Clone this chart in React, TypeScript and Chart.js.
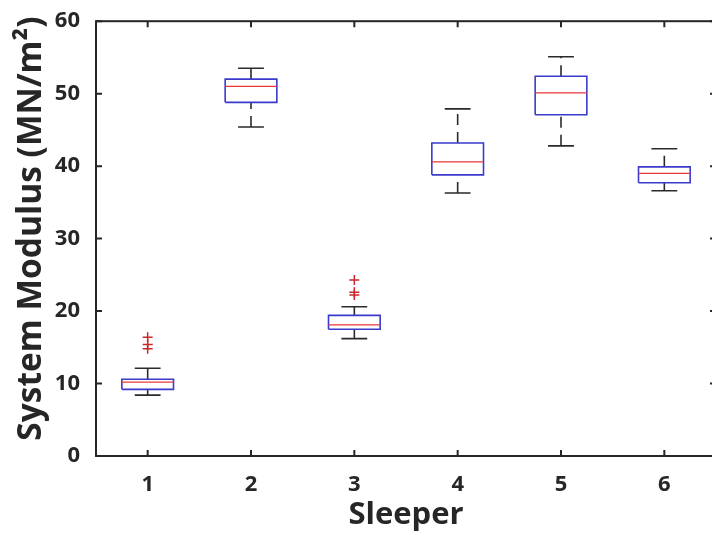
import React, { useEffect, useRef } from "react";
import { Chart, registerables } from "chart.js";

Chart.register(...registerables);

const sleepers = [1, 2, 3, 4, 5, 6];
const lowerWhisker = [8.4, 45.4, 16.2, 36.3, 42.8, 36.6];
const q1 = [9.2, 48.8, 17.5, 38.8, 47.1, 37.7];
const medians = [10.2, 51.0, 18.1, 40.6, 50.1, 39.0];
const q3 = [10.6, 52.0, 19.4, 43.2, 52.4, 39.9];
const upperWhisker = [12.1, 53.5, 20.6, 47.9, 55.1, 42.4];
const outlierSleeper = [1, 1, 1, 3, 3, 3];
const outlierValues = [16.4, 15.4, 14.8, 24.3, 22.6, 22.2];
const yTicks = [0, 10, 20, 30, 40, 50, 60];

const BOX_HALF = 0.25;
const CAP_HALF = 0.125;
const TEXT = "#262626";
const FONT = "'Open Sans', sans-serif";
const CANVAS_W = 740;
const CANVAS_H = 539;

type P = { x: number; y: number | null };

function buildBoxes(): P[] {
  const pts: P[] = [];
  sleepers.forEach((s, i) => {
    pts.push({ x: s - BOX_HALF, y: q1[i] });
    pts.push({ x: s + BOX_HALF, y: q1[i] });
    pts.push({ x: s + BOX_HALF, y: q3[i] });
    pts.push({ x: s - BOX_HALF, y: q3[i] });
    pts.push({ x: s - BOX_HALF, y: q1[i] });
    pts.push({ x: s, y: null });
  });
  return pts;
}

function buildMedians(): P[] {
  const pts: P[] = [];
  sleepers.forEach((s, i) => {
    pts.push({ x: s - BOX_HALF, y: medians[i] });
    pts.push({ x: s + BOX_HALF, y: medians[i] });
    pts.push({ x: s, y: null });
  });
  return pts;
}

function buildWhiskers(): P[] {
  const pts: P[] = [];
  sleepers.forEach((s, i) => {
    pts.push({ x: s, y: q3[i] });
    pts.push({ x: s, y: upperWhisker[i] });
    pts.push({ x: s + 0.001, y: null });
    pts.push({ x: s, y: lowerWhisker[i] });
    pts.push({ x: s, y: q1[i] });
    pts.push({ x: s + 0.002, y: null });
  });
  return pts;
}

function buildCaps(): P[] {
  const pts: P[] = [];
  sleepers.forEach((s, i) => {
    pts.push({ x: s - CAP_HALF, y: upperWhisker[i] });
    pts.push({ x: s + CAP_HALF, y: upperWhisker[i] });
    pts.push({ x: s, y: null });
    pts.push({ x: s - CAP_HALF, y: lowerWhisker[i] });
    pts.push({ x: s + CAP_HALF, y: lowerWhisker[i] });
    pts.push({ x: s, y: null });
  });
  return pts;
}

const frameTicks = {
  id: "frameTicks",
  afterDraw(chart: any) {
    const { ctx, chartArea } = chart;
    const xs = chart.scales.x;
    const ys = chart.scales.y;
    const { left, right, top, bottom } = chartArea;
    const tl = 6;
    ctx.save();
    ctx.strokeStyle = TEXT;
    ctx.lineWidth = 2;
    ctx.strokeRect(left, top, right - left, bottom - top);
    ctx.beginPath();
    sleepers.forEach((s) => {
      const px = xs.getPixelForValue(s);
      ctx.moveTo(px, bottom);
      ctx.lineTo(px, bottom - tl);
      ctx.moveTo(px, top);
      ctx.lineTo(px, top + tl);
    });
    yTicks.forEach((v) => {
      const py = ys.getPixelForValue(v);
      ctx.moveTo(left, py);
      ctx.lineTo(left + tl, py);
      ctx.moveTo(right, py);
      ctx.lineTo(right - tl, py);
    });
    ctx.stroke();
    ctx.restore();
  },
};

export default function App() {
  const ref = useRef<HTMLCanvasElement | null>(null);

  useEffect(() => {
    if (!ref.current) return;
    const chart = new Chart(ref.current, {
      type: "scatter",
      data: {
        datasets: [
          {
            data: outlierSleeper.map((s, i) => ({ x: s, y: outlierValues[i] })),
            showLine: false,
            pointStyle: "cross",
            pointRadius: 5,
            pointBorderColor: "#c8282d",
            pointBorderWidth: 1.5,
            borderColor: "#c8282d",
          },
          {
            data: buildMedians(),
            showLine: true,
            spanGaps: false,
            borderColor: "#e8383c",
            borderWidth: 1.3,
            pointRadius: 0,
          },
          {
            data: buildBoxes(),
            showLine: true,
            spanGaps: false,
            borderColor: "#3a3acc",
            borderWidth: 1.6,
            pointRadius: 0,
          },
          {
            data: buildCaps(),
            showLine: true,
            spanGaps: false,
            borderColor: "#2a2a2a",
            borderWidth: 1.6,
            pointRadius: 0,
          },
          {
            data: buildWhiskers(),
            showLine: true,
            spanGaps: false,
            borderColor: "#2a2a2a",
            borderWidth: 1.6,
            borderDash: [11, 7],
            pointRadius: 0,
          },
        ],
      },
      options: {
        animation: false,
        responsive: false,
        events: [],
        layout: { padding: { top: 16, right: CANVAS_W - 716, left: 0, bottom: 0 } },
        plugins: { legend: { display: false }, tooltip: { enabled: false } },
        scales: {
          x: {
            type: "linear",
            min: 0.5,
            max: 6.5,
            afterBuildTicks: (axis: any) => {
              axis.ticks = sleepers.map((v) => ({ value: v }));
            },
            afterFit: (scale: any) => {
              scale.height = 83;
            },
            grid: { display: false },
            border: { display: false },
            ticks: {
              color: TEXT,
              font: { family: FONT, size: 22, weight: "bold" },
              padding: 8,
              maxRotation: 0,
              callback: (v: any) => String(v),
            },
            title: {
              display: true,
              text: "Sleeper",
              color: TEXT,
              font: { family: FONT, size: 31, weight: "bold" },
              padding: { top: 0, bottom: 5 },
            },
          },
          y: {
            type: "linear",
            min: 0,
            max: 60,
            afterBuildTicks: (axis: any) => {
              axis.ticks = yTicks.map((v) => ({ value: v }));
            },
            afterFit: (scale: any) => {
              scale.width = 96;
            },
            grid: { display: false },
            border: { display: false },
            ticks: {
              color: TEXT,
              font: { family: FONT, size: 22, weight: "bold" },
              padding: 8,
              callback: (v: any) => String(v),
            },
            title: {
              display: true,
              text: "\u2002\u200ASystem Modulus (MN/m²)",
              color: TEXT,
              font: { family: FONT, size: 33.5, weight: "bold" },
              padding: { top: 11, bottom: 0 },
            },
          },
        },
      },
      plugins: [frameTicks],
    });
    return () => chart.destroy();
  }, []);

  return (
    <div style={{ position: "fixed", left: 0, top: 0, width: 712, height: 539, background: "#fff", overflow: "hidden" }}>
      <canvas ref={ref} width={CANVAS_W} height={CANVAS_H} style={{ display: "block" }} />
    </div>
  );
}
